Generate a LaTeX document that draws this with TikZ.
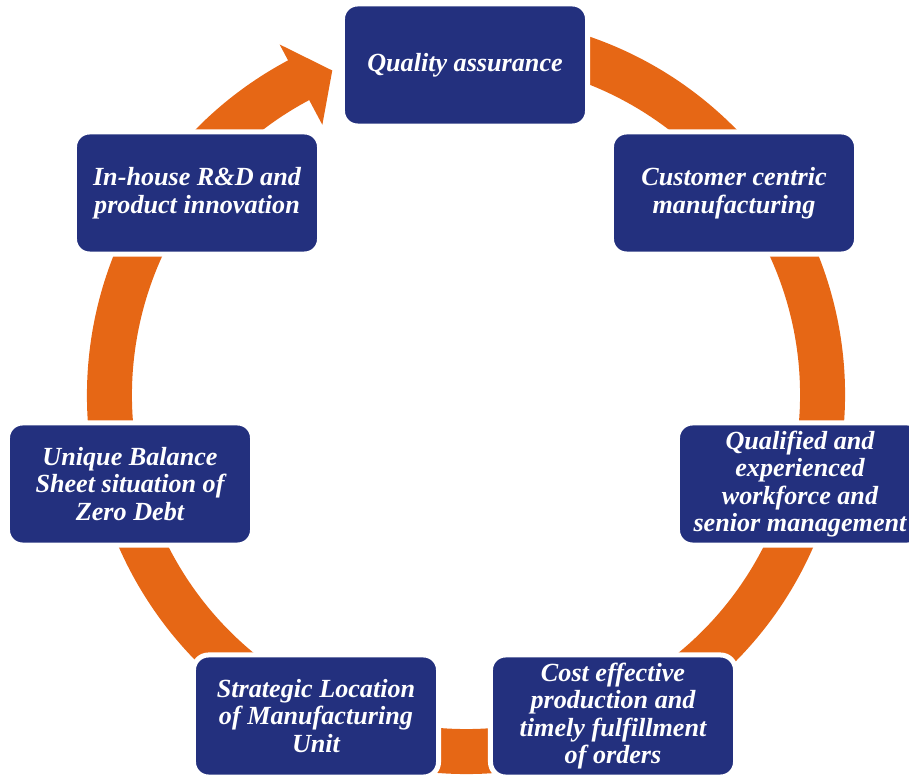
\documentclass[tikz,border=0pt]{standalone}
\usepackage{fontspec}
\setmainfont{Liberation Serif}
\usepackage{tikz}

\definecolor{boxblue}{RGB}{35,48,126}
\definecolor{ringorange}{RGB}{230,103,21}

\tikzset{
  blockbox/.style={fill=boxblue, draw=white, line width=5*0.025cm,
    rounded corners=0.375cm, minimum width=6.125cm, minimum height=3.05cm,
    inner sep=0pt, align=center, text=white,
    font=\fontsize{18.6}{19.6}\selectfont\bfseries\itshape}
}

\begin{document}
\begin{tikzpicture}[x=0.025cm, y=0.025cm]
    \useasboundingbox (0, 0) rectangle (909, 776);
    \clip (0, 0) rectangle (909, 776);

    % ring with arrow head
    \begin{scope}[shift={(466, 381)}]
    \fill[ringorange] (80:379) arc[start angle=80, end angle=-242, radius=379]
            -- (118:397) -- (112.4:351) -- (118:306) -- (118:334)
            arc[start angle=-242, end angle=80, radius=334] -- cycle;
    \end{scope}

    \node[blockbox] (qa) at (465, 711) {Quality assurance};
    \node[blockbox] (customer) at (734, 583) {Customer centric\\manufacturing};
    \node[blockbox] (workforce) at (800, 292)
            {Qualified and\\experienced\\workforce and\\senior management};
    \node[blockbox] (cost) at (613, 60)
            {Cost effective\\production and\\timely fulfillment\\of orders};
    \node[blockbox] (location) at (316, 60)
            {Strategic Location\\of Manufacturing\\Unit};
    \node[blockbox] (balance) at (130, 292)
            {Unique Balance\\Sheet situation of\\Zero Debt};
    \node[blockbox] (rnd) at (197, 583) {In-house R\&D and\\product innovation};
  \end{tikzpicture}
\end{document}
